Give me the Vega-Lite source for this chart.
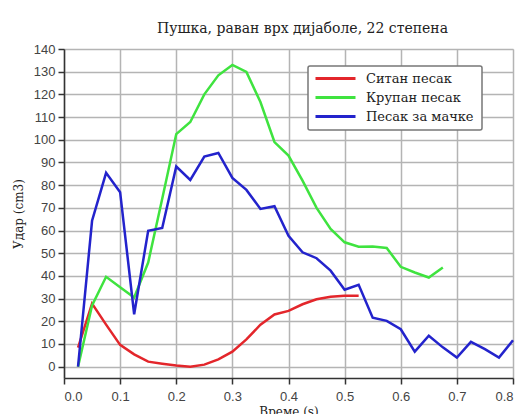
{
  "$schema": "https://vega.github.io/schema/vega-lite/v6.json",
  "autosize": {"type": "pad"},
  "width": 449,
  "height": 329,
  "padding": {"left": 12, "top": 22, "right": 0, "bottom": 0},
  "title": {
    "text": "Пушка, раван врх дијаболе, 22 степена",
    "font": "DejaVu Serif",
    "fontSize": 14,
    "fontWeight": "normal",
    "color": "#222",
    "offset": 7,
    "dx": 14
  },
  "data": {
    "values": [
      {"t": 0.025, "v": 8.4, "s": "Ситан песак"},
      {"t": 0.05, "v": 27.8, "s": "Ситан песак"},
      {"t": 0.075, "v": 18.5, "s": "Ситан песак"},
      {"t": 0.1, "v": 9.6, "s": "Ситан песак"},
      {"t": 0.125, "v": 5.4, "s": "Ситан песак"},
      {"t": 0.15, "v": 2.2, "s": "Ситан песак"},
      {"t": 0.175, "v": 1.3, "s": "Ситан песак"},
      {"t": 0.2, "v": 0.5, "s": "Ситан песак"},
      {"t": 0.225, "v": 0, "s": "Ситан песак"},
      {"t": 0.25, "v": 0.9, "s": "Ситан песак"},
      {"t": 0.275, "v": 3.2, "s": "Ситан песак"},
      {"t": 0.3, "v": 6.6, "s": "Ситан песак"},
      {"t": 0.325, "v": 12, "s": "Ситан песак"},
      {"t": 0.35, "v": 18.5, "s": "Ситан песак"},
      {"t": 0.375, "v": 23, "s": "Ситан песак"},
      {"t": 0.4, "v": 24.6, "s": "Ситан песак"},
      {"t": 0.425, "v": 27.5, "s": "Ситан песак"},
      {"t": 0.45, "v": 29.7, "s": "Ситан песак"},
      {"t": 0.475, "v": 30.8, "s": "Ситан песак"},
      {"t": 0.5, "v": 31.2, "s": "Ситан песак"},
      {"t": 0.525, "v": 31.2, "s": "Ситан песак"},

      {"t": 0.025, "v": 0, "s": "Крупан песак"},
      {"t": 0.05, "v": 27, "s": "Крупан песак"},
      {"t": 0.075, "v": 39.6, "s": "Крупан песак"},
      {"t": 0.1, "v": 35, "s": "Крупан песак"},
      {"t": 0.125, "v": 30.5, "s": "Крупан песак"},
      {"t": 0.15, "v": 45.9, "s": "Крупан песак"},
      {"t": 0.175, "v": 74, "s": "Крупан песак"},
      {"t": 0.2, "v": 102.5, "s": "Крупан песак"},
      {"t": 0.225, "v": 107.8, "s": "Крупан песак"},
      {"t": 0.25, "v": 120, "s": "Крупан песак"},
      {"t": 0.275, "v": 128.4, "s": "Крупан песак"},
      {"t": 0.3, "v": 133, "s": "Крупан песак"},
      {"t": 0.325, "v": 129.9, "s": "Крупан песак"},
      {"t": 0.35, "v": 116.6, "s": "Крупан песак"},
      {"t": 0.375, "v": 99, "s": "Крупан песак"},
      {"t": 0.4, "v": 93, "s": "Крупан песак"},
      {"t": 0.425, "v": 82, "s": "Крупан песак"},
      {"t": 0.45, "v": 70, "s": "Крупан песак"},
      {"t": 0.475, "v": 60.7, "s": "Крупан песак"},
      {"t": 0.5, "v": 54.8, "s": "Крупан песак"},
      {"t": 0.525, "v": 52.9, "s": "Крупан песак"},
      {"t": 0.55, "v": 53, "s": "Крупан песак"},
      {"t": 0.575, "v": 52.3, "s": "Крупан песак"},
      {"t": 0.6, "v": 44, "s": "Крупан песак"},
      {"t": 0.625, "v": 41.5, "s": "Крупан песак"},
      {"t": 0.65, "v": 39.3, "s": "Крупан песак"},
      {"t": 0.675, "v": 43.7, "s": "Крупан песак"},

      {"t": 0.025, "v": 0, "s": "Песак за мачке"},
      {"t": 0.05, "v": 64.3, "s": "Песак за мачке"},
      {"t": 0.075, "v": 85.4, "s": "Песак за мачке"},
      {"t": 0.1, "v": 76.9, "s": "Песак за мачке"},
      {"t": 0.125, "v": 23.1, "s": "Песак за мачке"},
      {"t": 0.15, "v": 59.9, "s": "Песак за мачке"},
      {"t": 0.175, "v": 61.1, "s": "Песак за мачке"},
      {"t": 0.2, "v": 88.2, "s": "Песак за мачке"},
      {"t": 0.225, "v": 82.3, "s": "Песак за мачке"},
      {"t": 0.25, "v": 92.6, "s": "Песак за мачке"},
      {"t": 0.275, "v": 94.2, "s": "Песак за мачке"},
      {"t": 0.3, "v": 83.2, "s": "Песак за мачке"},
      {"t": 0.325, "v": 77.9, "s": "Песак за мачке"},
      {"t": 0.35, "v": 69.5, "s": "Песак за мачке"},
      {"t": 0.375, "v": 70.7, "s": "Песак за мачке"},
      {"t": 0.4, "v": 57.7, "s": "Песак за мачке"},
      {"t": 0.425, "v": 50.4, "s": "Песак за мачке"},
      {"t": 0.45, "v": 47.8, "s": "Песак за мачке"},
      {"t": 0.475, "v": 42.3, "s": "Песак за мачке"},
      {"t": 0.5, "v": 33.9, "s": "Песак за мачке"},
      {"t": 0.525, "v": 36.1, "s": "Песак за мачке"},
      {"t": 0.55, "v": 21.6, "s": "Песак за мачке"},
      {"t": 0.575, "v": 20.2, "s": "Песак за мачке"},
      {"t": 0.6, "v": 16.5, "s": "Песак за мачке"},
      {"t": 0.625, "v": 6.6, "s": "Песак за мачке"},
      {"t": 0.65, "v": 13.6, "s": "Песак за мачке"},
      {"t": 0.675, "v": 8.5, "s": "Песак за мачке"},
      {"t": 0.7, "v": 4, "s": "Песак за мачке"},
      {"t": 0.725, "v": 10.9, "s": "Песак за мачке"},
      {"t": 0.75, "v": 7.7, "s": "Песак за мачке"},
      {"t": 0.775, "v": 4, "s": "Песак за мачке"},
      {"t": 0.8, "v": 11.6, "s": "Песак за мачке"}
    ]
  },
  "mark": {"type": "line", "strokeWidth": 2.5},
  "encoding": {
    "x": {
      "field": "t",
      "type": "quantitative",
      "scale": {"domain": [0, 0.8], "nice": false},
      "axis": {
        "title": "Време (s)",
        "tickCount": 8,
        "format": ".1f",
        "grid": true,
        "gridColor": "#b4b4b4",
        "gridOpacity": 1,
        "gridWidth": 1.5,
        "labelFont": "Liberation Sans",
        "labelFontSize": 13,
        "labelColor": "#444",
        "labelPadding": 6,
        "titleFont": "DejaVu Serif",
        "titleFontSize": 12,
        "titleFontWeight": "normal",
        "titleColor": "#222",
        "titlePadding": 3,
        "domainColor": "#333",
        "domainWidth": 1.5,
        "tickColor": "#333",
        "tickWidth": 1.5,
        "tickSize": 6
      }
    },
    "y": {
      "field": "v",
      "type": "quantitative",
      "scale": {"domain": [-5, 140], "nice": false},
      "axis": {
        "title": "Удар (cm3)",
        "tickCount": 15,
        "grid": true,
        "gridColor": "#b4b4b4",
        "gridOpacity": 1,
        "gridWidth": 1.5,
        "labelFont": "Liberation Sans",
        "labelFontSize": 13,
        "labelColor": "#444",
        "labelPadding": 3,
        "titleFont": "DejaVu Serif",
        "titleFontSize": 12,
        "titleFontWeight": "normal",
        "titleColor": "#222",
        "titlePadding": 8,
        "domainColor": "#333",
        "domainWidth": 1.5,
        "tickColor": "#333",
        "tickWidth": 1.5,
        "tickSize": 6
      }
    },
    "color": {
      "field": "s",
      "type": "nominal",
      "scale": {
        "domain": ["Ситан песак", "Крупан песак", "Песак за мачке"],
        "range": ["#e3262b", "#3fe33f", "#2323cc"]
      },
      "legend": {
        "title": "\u00a0\u00a0\u00a0\u00a0\u00a0\u00a0\u00a0\u00a0\u00a0",
        "titleOrient": "right",
        "titleFontSize": 15,
        "titlePadding": 2,
        "orient": "none",
        "legendX": 244,
        "legendY": 17,
        "direction": "vertical",
        "symbolType": "M-1,0H7",
        "symbolSize": 100,
        "symbolStrokeWidth": 3,
        "labelFont": "DejaVu Serif",
        "labelFontSize": 13,
        "labelColor": "#222",
        "labelOffset": 39,
        "rowPadding": 5,
        "padding": 6,
        "strokeColor": "#777",
        "cornerRadius": 2,
        "fillColor": "white",
        "labelLimit": 200
      }
    }
  },
  "config": {
    "legend": {"strokeWidth": 1.5}
  }
}
